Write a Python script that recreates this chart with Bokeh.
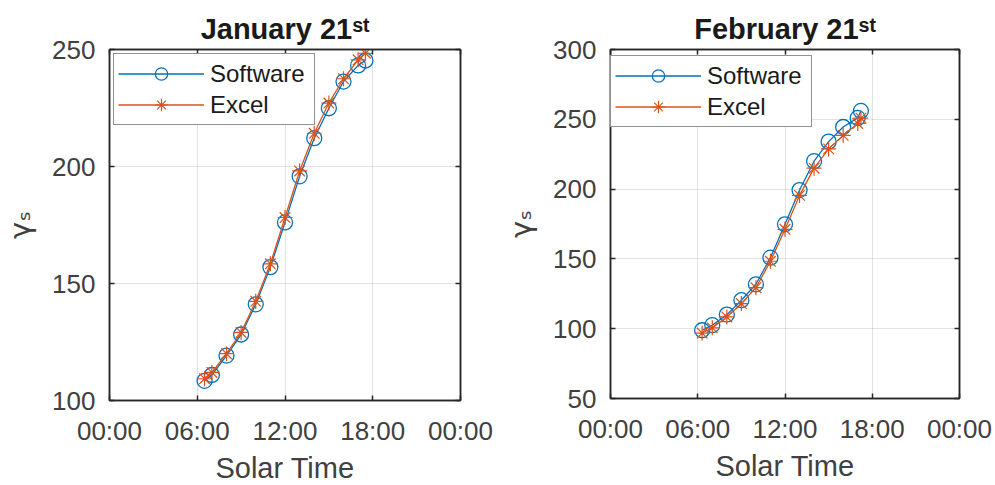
from bokeh.plotting import figure
from bokeh.layouts import row
from bokeh.models import (Range1d, FixedTicker, LinearAxis, Legend, LegendItem)
from bokeh.embed import file_html
from bokeh.resources import INLINE

# Solar azimuth (gamma_s) over the day, software vs. spreadsheet
jan_hours = [6.5, 7, 8, 9, 10, 11, 12, 13, 14, 15, 16, 17, 17.5]
jan_software = [108.4, 110.9, 119.2, 128.2, 141.1, 157.0, 176.1, 195.8, 212.1, 224.9, 236.3, 243.2, 245.3]
jan_excel = [109.3, 112.0, 120.0, 129.1, 142.4, 158.4, 178.2, 198.1, 214.2, 227.1, 237.5, 245.6, 248.4]

feb_hours = [6.3, 7, 8, 9, 10, 11, 12, 13, 14, 15, 16, 17, 17.22]
feb_software = [98.9, 102.5, 110.1, 120.4, 131.8, 150.9, 174.8, 199.3, 220.0, 234.0, 244.5, 251.0, 256.0]
feb_excel = [96.9, 100.6, 108.4, 118.0, 129.4, 148.3, 171.2, 195.5, 215.0, 228.8, 238.5, 247.0, 250.8]

x_ticks = [0, 6, 12, 18, 24]
x_tick_labels = ["00:00", "06:00", "12:00", "18:00", "00:00"]
series_names = ["Software", "Excel"]

BLUE = "#0072BD"
ORANGE = "#D95319"
AX = "#262626"
FONT = "Liberation Sans"


def style_axis(ax):
    ax.axis_line_color = AX
    ax.axis_line_width = 1.5
    ax.major_tick_in = 5
    ax.major_tick_out = 0
    ax.major_tick_line_color = AX
    ax.major_tick_line_width = 1.5
    ax.minor_tick_line_color = None
    ax.major_label_text_font = FONT
    ax.major_label_text_font_size = "26px"
    ax.major_label_text_color = "#404040"


def make_panel(hours, sw, ex, y_range, y_ticks, title, frame, borders, legend_loc):
    left, right, top, bottom = borders
    p = figure(frame_width=frame[0], frame_height=frame[1],
               output_backend="svg", toolbar_location=None,
               x_range=Range1d(0, 24), y_range=Range1d(*y_range),
               min_border_left=left, min_border_right=right,
               min_border_top=top, min_border_bottom=bottom)
    p.outline_line_color = AX
    p.outline_line_width = 1.5
    p.background_fill_color = "white"
    p.border_fill_color = "white"

    p.title.text = title
    p.title.align = "center"
    p.title.text_font = FONT
    p.title.text_font_size = "29px"
    p.title.text_font_style = "bold"
    p.title.text_color = "#1a1a1a"
    p.title.standoff = 9

    p.xaxis.ticker = FixedTicker(ticks=x_ticks)
    p.xaxis.major_label_overrides = dict(zip(x_ticks, x_tick_labels))
    p.yaxis.ticker = FixedTicker(ticks=y_ticks)
    p.xgrid.ticker = FixedTicker(ticks=x_ticks)
    p.ygrid.ticker = FixedTicker(ticks=y_ticks)
    p.grid.grid_line_color = AX
    p.grid.grid_line_alpha = 0.13
    p.grid.grid_line_width = 1

    # mirrored tick marks on the top and right edges (no labels)
    top_ax = LinearAxis(ticker=FixedTicker(ticks=x_ticks))
    right_ax = LinearAxis(ticker=FixedTicker(ticks=y_ticks))
    p.add_layout(top_ax, "above")
    p.add_layout(right_ax, "right")

    for ax in p.axis:
        style_axis(ax)
    for ax in (top_ax, right_ax):
        style_axis(ax)
        ax.major_label_text_color = None
        ax.major_label_text_font_size = "1px"
        ax.major_label_standoff = 0

    xa = p.below[0]
    xa.major_label_standoff = 15
    xa.axis_label = "Solar Time"
    xa.axis_label_text_font = FONT
    xa.axis_label_text_font_size = "29px"
    xa.axis_label_text_font_style = "normal"
    xa.axis_label_text_color = "#404040"
    xa.axis_label_standoff = 3

    ya = p.left[0]
    ya.major_label_standoff = 14
    ya.axis_label = "γₛ"
    ya.axis_label_text_font = "DejaVu Sans"
    ya.axis_label_text_font_size = "29px"
    ya.axis_label_text_font_style = "normal"
    ya.axis_label_text_color = "#404040"
    ya.axis_label_standoff = 12

    l1 = p.line(hours, sw, line_color=BLUE, line_width=1.3)
    s1 = p.scatter(hours, sw, marker="circle", size=15, fill_color=None,
                   line_color=BLUE, line_width=1.3)
    l2 = p.line(hours, ex, line_color=ORANGE, line_width=1.3)
    s2 = p.scatter(hours, ex, marker="asterisk", size=15,
                   line_color=ORANGE, line_width=1.2)

    legend = Legend(items=[LegendItem(label=series_names[0], renderers=[l1, s1]),
                           LegendItem(label=series_names[1], renderers=[l2, s2])],
                    location=legend_loc, orientation="vertical",
                    padding=4, spacing=0, margin=0,
                    glyph_width=86, glyph_height=31, label_height=31,
                    label_width=100, label_standoff=6,
                    label_text_font=FONT, label_text_font_size="24px",
                    label_text_color="#1a1a1a",
                    border_line_color=AX, border_line_width=1,
                    background_fill_color="white", background_fill_alpha=1)
    p.add_layout(legend)
    return p


p1 = make_panel(jan_hours, jan_software, jan_excel, (100, 250), [100, 150, 200, 250],
                "January 21ˢᵗ", (351, 351), (108, 38, 48, 86), (4, 275))
p2 = make_panel(feb_hours, feb_software, feb_excel, (50, 300), [50, 100, 150, 200, 250, 300],
                "February 21ˢᵗ", (349, 349), (112, 37, 49, 87), (0, 271))

layout = row(p1, p2)
open("out.html", "w").write(file_html(layout, INLINE))
